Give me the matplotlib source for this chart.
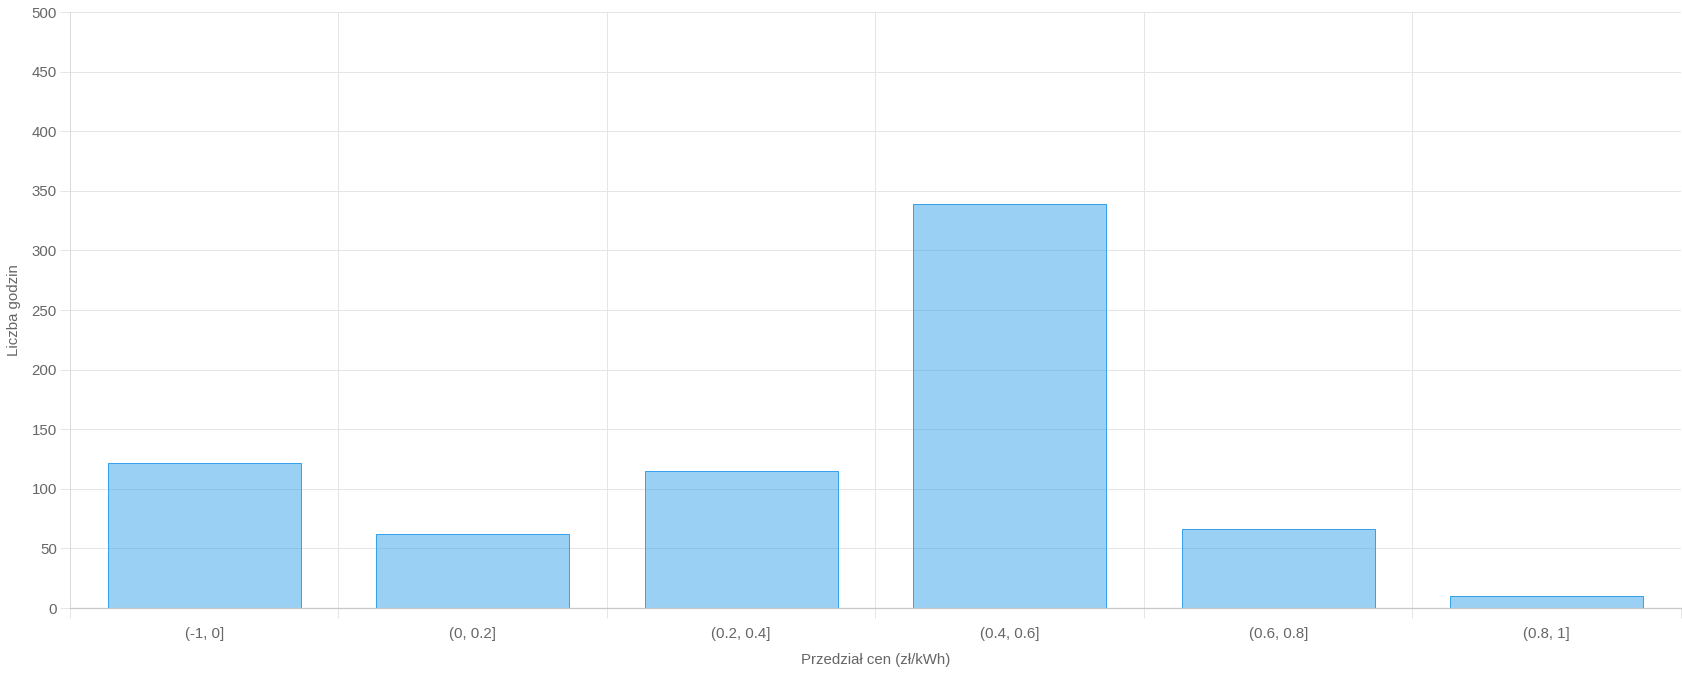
import matplotlib
matplotlib.use("Agg")
import numpy as np
from matplotlib import pyplot as plt

categories = ["(-1, 0]", "(0, 0.2]", "(0.2, 0.4]", "(0.4, 0.6]", "(0.6, 0.8]", "(0.8, 1]"]
hours = [122, 62, 115, 339, 66, 10]
y_ticks = list(range(0, 501, 50))

W, H, DPI = 1683, 673, 100
plt.rcParams['font.family'] = ['Liberation Sans', 'DejaVu Sans']

fig = plt.figure(figsize=(W / DPI, H / DPI), dpi=DPI)
# plot area in pixels: x 70..1681, y 12..608
left, right, top, bottom = 70, 1681, 12, 608
ax = fig.add_axes([left / W, (H - bottom) / H, (right - left) / W, (bottom - top) / H])

grid_c = "#e5e5e5"
text_c = "#666666"
px = 72 / DPI  # points per pixel

x = np.arange(len(categories))
ax.bar(x, hours, width=0.72, color=(54 / 255, 162 / 255, 235 / 255, 0.5),
       edgecolor=(54 / 255, 162 / 255, 235 / 255), linewidth=1 * px, zorder=2)

ax.set_xlim(-0.5, len(categories) - 0.5)
ax.set_ylim(0, 500)

ax.set_yticks(y_ticks)
ax.set_xticks(x)
ax.set_xticklabels(categories)
ax.set_xticks(np.arange(-0.5, len(categories)), minor=True)

ax.grid(axis="y", which="major", color=grid_c, linewidth=1 * px, zorder=0)
ax.grid(axis="x", which="minor", color=grid_c, linewidth=1 * px, zorder=0)
ax.set_axisbelow(True)

ax.tick_params(axis="x", which="major", length=0, pad=19 * px, labelsize=15 * px, labelcolor=text_c)
ax.tick_params(axis="x", which="minor", length=10 * px, width=1 * px, color=grid_c)
ax.tick_params(axis="y", length=10 * px, width=1 * px, color=grid_c, pad=3 * px,
               labelsize=15 * px, labelcolor=text_c)

for side in ["top", "right"]:
    ax.spines[side].set_visible(False)
ax.spines["left"].set_color("#d9d9d9")
ax.spines["left"].set_linewidth(1 * px)
ax.spines["bottom"].set_color("#c8c8c8")
ax.spines["bottom"].set_linewidth(1.3 * px)

ax.set_xlabel("Przedział cen (zł/kWh)", fontsize=15 * px, color=text_c, va="center")
ax.xaxis.set_label_coords(0.5, -(660 - bottom) / (bottom - top))
ax.set_ylabel("Liczba godzin", fontsize=15 * px, color=text_c, va="center")
ax.yaxis.set_label_coords(-(left - 14) / (right - left), 0.5)

fig.savefig("out.png", dpi=DPI)
